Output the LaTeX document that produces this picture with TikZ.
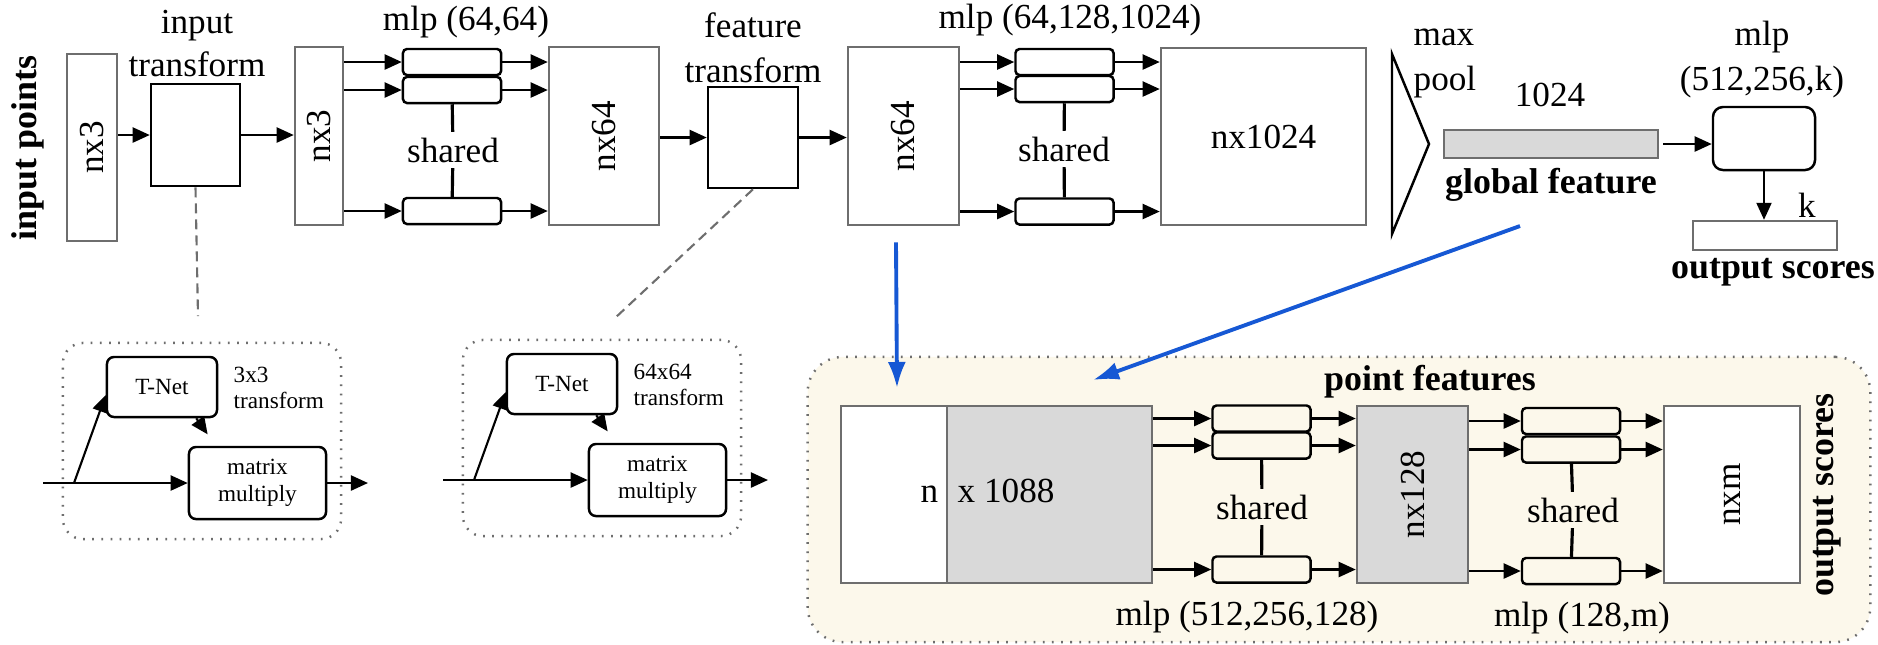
\documentclass[tikz,border=0pt]{standalone}
\usepackage{fontspec}
\setmainfont{Liberation Serif}
\usetikzlibrary{arrows.meta}

\definecolor{boxgray}{RGB}{110,110,110}
\definecolor{featgray}{RGB}{217,217,217}
\definecolor{segyellow}{RGB}{252,248,235}
\definecolor{feedblue}{RGB}{22,88,212}

\begin{document}
\begin{tikzpicture}[x=0.01cm,y=-0.01cm,>={Triangle[length=0.17cm,width=0.15cm]},
                    every node/.style={font=\fontsize{10}{12.2}\selectfont,inner sep=0pt},
                    databox/.style={draw=boxgray,line width=0.7pt,fill=white},
                    transbox/.style={draw,line width=0.7pt},
                    mlpbox/.style={draw,line width=0.7pt,rounded corners=0.04cm,minimum width=0.98cm,minimum height=0.26cm},
                    tnetbox/.style={draw,line width=0.7pt,rounded corners=0.07cm,font=\fontsize{6.6}{7.7}\selectfont},
                    tnetgroup/.style={draw=boxgray,line width=0.7pt,dash pattern=on 0.5pt off 2.1pt,rounded corners=0.2cm,minimum width=2.78cm,minimum height=1.96cm},
                    boldlbl/.style={font=\fontsize{10.2}{12.2}\selectfont\bfseries},
                    sharelbl/.style={inner ysep=0.05cm},
                    link/.style={->,line width=0.6pt},
                    tie/.style={line width=0.9pt},
                    hint/.style={draw=boxgray,line width=0.6pt,dash pattern=on 0.1cm off 0.06cm},
                    feed/.style={feedblue,line width=1.1pt,-{Latex[length=0.26cm,width=0.18cm]}}]
                  \useasboundingbox (0,0) rectangle (1878,644);
                  \node[draw=boxgray,fill=segyellow,line width=0.7pt,dash pattern=on 0.5pt off 2.1pt,rounded corners=0.35cm,minimum width=10.62cm,minimum height=2.85cm] (segbox) at (1339,499.5) {};

                  \node[boldlbl,rotate=90] (inpts) at (28,148) {input points};
                  \node[databox,minimum width=0.5cm,minimum height=1.87cm] (nxa) at (92,147.5) {\rotatebox{90}{nx3}};
                  \node[transbox,minimum width=0.89cm,minimum height=1.02cm] (itr) at (195.5,135) {};
                  \node[align=center] (itrlbl) at (197,43.5) {input\\transform};
                  \node[databox,minimum width=0.48cm,minimum height=1.78cm] (nxb) at (319,136) {\rotatebox{90}{nx3}};
                  \node[mlpbox] (ma1) at (452,62) {};
                  \node[mlpbox] (ma2) at (452,90) {};
                  \node[mlpbox] (ma3) at (452,211) {};
                  \node[sharelbl] (sha) at (453,150) {shared};
                  \node (mlpa) at (466,22) {mlp (64,64)};
                  \node[databox,minimum width=1.1cm,minimum height=1.78cm] (nxc) at (604,136) {\rotatebox{90}{nx64}};
                  \node[transbox,minimum width=0.9cm,minimum height=1.01cm] (ftr) at (753,137.5) {};
                  \node[align=center] (ftrlbl) at (753,47.5) {feature\\[0.6pt]transform};
                  \node[databox,minimum width=1.11cm,minimum height=1.78cm] (nxd) at (903.5,136) {\rotatebox{90}{nx64}};
                  \node[mlpbox] (mb1) at (1064.5,62) {};
                  \node[mlpbox] (mb2) at (1064.5,89) {};
                  \node[mlpbox] (mb3) at (1064.5,211.5) {};
                  \node[sharelbl] (shb) at (1064,149) {shared};
                  \node (mlpb) at (1070,20) {mlp (64,128,1024)};
                  \node[databox,minimum width=2.05cm,minimum height=1.77cm] (nxe) at (1263.5,136.5) {nx1024};
                  \draw[line width=0.7pt] (1392,54) -- (1429,144) -- (1392,234) -- cycle;
                  \node[anchor=base west] (maxlbl) at (1413,45) {max};
                  \node[anchor=base west] (poollbl) at (1413,90) {pool};
                  \node[databox,fill=featgray,minimum width=2.14cm,minimum height=0.28cm] (gfeat) at (1551,144) {};
                  \node (gdim) at (1550,95) {1024};
                  \node[boldlbl] (glbl) at (1551,185) {global feature};
                  \node[draw,line width=0.7pt,rounded corners=0.1cm,minimum width=1.02cm,minimum height=0.63cm] (cls) at (1764,138.5) {};
                  \node[align=center] (clslbl) at (1762,59.5) {mlp\\[0.6pt](512,256,k)};
                  \node[databox,minimum width=1.44cm,minimum height=0.29cm] (outb) at (1765,235.5) {};
                  \node (klbl) at (1807,205) {k};
                  \node[boldlbl] (outlbl) at (1773,272) {output scores};

                  \draw[link] (nxa.east |- itr.west) -- (itr.west);
                  \draw[link] (itr.east) -- (itr.east -| nxb.west);
                  \foreach \m in {ma1,ma2,ma3}{
                      \draw[link] (nxb.east |- \m.west) -- (\m.west);
                      \draw[link] (\m.east) -- (\m.east -| nxc.west);
                  }
                  \draw[tie] (ma2) -- (sha) -- (ma3);
                  \draw[link] (nxc.east |- ftr.west) -- (ftr.west);
                  \draw[link] (ftr.east) -- (ftr.east -| nxd.west);
                  \foreach \m in {mb1,mb2,mb3}{
                      \draw[link] (nxd.east |- \m.west) -- (\m.west);
                      \draw[link] (\m.east) -- (\m.east -| nxe.west);
                  }
                  \draw[tie] (mb2) -- (shb) -- (mb3);
                  \draw[link,shorten <=0.04cm] (gfeat.east) -- (gfeat.east -| cls.west);
                  \draw[link] (cls.south) -- (cls.south |- outb.north);

                  \foreach \g/\dx/\dy/\tsize in {a/0/0/3x3,b/400/-3/64x64}{
                      \begin{scope}[shift={(\dx,\dy)}]
                          \node[tnetgroup] (grp\g) at (202,441) {};
                          \node[tnetbox,minimum width=1.1cm,minimum height=0.6cm] (tnet\g) at (162,387) {T-Net};
                          \node[font=\fontsize{6.6}{7.4}\selectfont,align=left,anchor=west] (dim\g) at (233,388) {\tsize\\transform};
                          \node[tnetbox,minimum width=1.37cm,minimum height=0.72cm,align=center] (mult\g) at (257.5,483) {matrix\\multiply};
                          \coordinate (in\g) at (43,483);
                          \coordinate (fork\g) at (74,483);
                          \coordinate (out\g) at (368,483);
                          \draw[link] (in\g) -- (mult\g.west);
                          \draw[link] (fork\g) -- ([yshift=-0.08cm]tnet\g.west);
                          \draw[link,shorten >=0.14cm] ([xshift=-0.22cm]tnet\g.south east) -- ([xshift=0.28cm]mult\g.north west);
                          \draw[link] (mult\g.east) -- (out\g);
                      \end{scope}
                  }
                  \coordinate (hinta) at (198,316);
                  \coordinate (hintb) at (615,318);
                  \draw[hint] (itr.south) -- (hinta);
                  \draw[hint] (ftr.south) -- (hintb);

                  \node[databox,minimum width=1.06cm,minimum height=1.77cm] (pnl) at (894,494.5) {};
                  \node[databox,fill=featgray,minimum width=2.05cm,minimum height=1.77cm] (pnr) at (1049.5,494.5) {};
                  \node[anchor=base east] (nlbl) at (939,502) {n};
                  \node[anchor=base west] (pdim) at (957,502) {x 1088};
                  \node[mlpbox] (pa1) at (1261.5,418.5) {};
                  \node[mlpbox] (pa2) at (1261.5,445.5) {};
                  \node[mlpbox] (pa3) at (1261.5,569.5) {};
                  \node[sharelbl] (shc) at (1262,507) {shared};
                  \node (mlpc) at (1247,617) {mlp (512,256,128)};
                  \node[databox,fill=featgray,minimum width=1.11cm,minimum height=1.77cm] (nxf) at (1412.5,494.5) {\rotatebox{90}{nx128}};
                  \node[mlpbox] (pb1) at (1571,421) {};
                  \node[mlpbox] (pb2) at (1571,449.5) {};
                  \node[mlpbox] (pb3) at (1571,571) {};
                  \node[sharelbl] (shd) at (1573,510) {shared};
                  \node (mlpd) at (1582,618) {mlp (128,m)};
                  \node[databox,minimum width=1.36cm,minimum height=1.77cm] (nxg) at (1732,494.5) {\rotatebox{90}{nxm}};
                  \node[boldlbl,rotate=90] (seglbl) at (1827,495) {output scores};
                  \node[boldlbl] (ptlbl) at (1430,382) {point features};

                  \foreach \m in {pa1,pa2,pa3}{
                      \draw[link] (pnr.east |- \m.west) -- (\m.west);
                      \draw[link] (\m.east) -- (\m.east -| nxf.west);
                  }
                  \draw[tie] (pa2) -- (shc) -- (pa3);
                  \foreach \m in {pb1,pb2,pb3}{
                      \draw[link] (nxf.east |- \m.west) -- (\m.west);
                      \draw[link] (\m.east) -- (\m.east -| nxg.west);
                  }
                  \draw[tie] (pb2) -- (shd) -- (pb3);

                  \coordinate (feeda) at (897,388);
                  \coordinate (feedsrc) at (1520,226);
                  \coordinate (feedb) at (1093,380);
                  \draw[feed] ([xshift=-0.075cm,yshift=-0.16cm]nxd.south) -- (feeda);
                  \draw[feed] (feedsrc) -- (feedb);
              \end{tikzpicture}
\end{document}
